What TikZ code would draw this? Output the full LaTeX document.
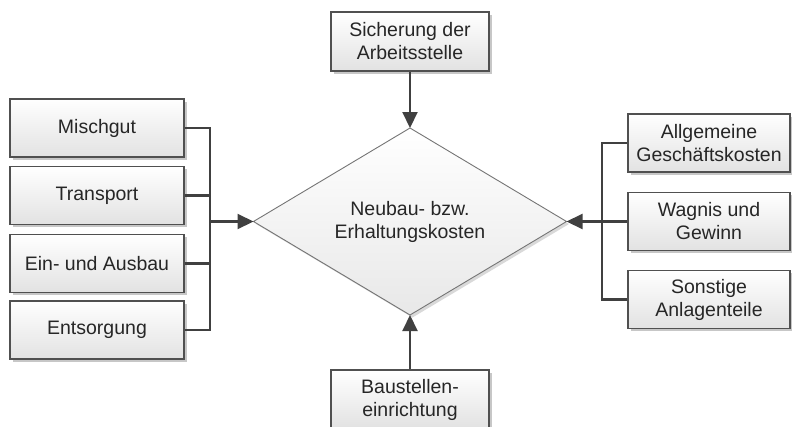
\documentclass[tikz,border=0pt]{standalone}
\usepackage{fontspec}
\setmainfont{Liberation Sans}
\usetikzlibrary{shapes.geometric,shadows,arrows.meta}
\definecolor{boxline}{HTML}{505050}
\definecolor{boxfill}{HTML}{E2E2E2}
\definecolor{connline}{HTML}{404040}
\definecolor{diamline}{HTML}{757575}
\begin{document}
\begin{tikzpicture}[x=1pt,y=-1pt,
  costbox/.style={draw=boxline, line width=1.1pt, top color=white, bottom color=boxfill,
    drop shadow={shadow xshift=2.5pt, shadow yshift=-2.5pt, fill=black, opacity=0.22},
    align=center, inner sep=0pt, text=black!85,
    font=\fontsize{19.5}{23}\selectfont},
  leftbox/.style={costbox, minimum width=174pt, minimum height=58pt},
  rightbox/.style={costbox, minimum width=162pt, minimum height=58pt},
  vbox/.style={costbox, minimum width=158pt, minimum height=59pt},
  conn/.style={draw=connline, line width=2.1pt, line join=miter},
  feed/.style={conn, -{Triangle[length=16pt, width=15pt]}},
]
% page and clipping frame
\fill[white] (0,0) rectangle (792,426);
\clip (0,0) rectangle (792,426);

% central diamond
\node[diamond, aspect=1.67, minimum width=313pt, minimum height=187pt,
  inner sep=0pt, outer sep=0pt, draw=diamline, line width=0.9pt,
  top color=white, bottom color=boxfill!80,
  drop shadow={shadow xshift=2.5pt, shadow yshift=-2.5pt, fill=black, opacity=0.15},
  align=center, text=black!85, font=\fontsize{19.5}{23}\selectfont]
  (cost) at (410,221.5) {Neubau- bzw.\\Erhaltungskosten};

% left column
\node[leftbox] (mischgut)  at (97,128)   {Mischgut};
\node[leftbox] (transport) at (97,195.5) {Transport};
\node[leftbox] (einaus)    at (97,263.5) {Ein- und Ausbau};
\node[leftbox] (entsorg)   at (97,330)   {Entsorgung};

% right column
\node[rightbox] (allg)     at (709,143)   {Allgemeine\\Geschäftskosten};
\node[rightbox] (wagnis)   at (709,221.5) {Wagnis und\\Gewinn};
\node[rightbox] (sonstige) at (709,299.5) {Sonstige\\Anlagenteile};

% top and bottom
\node[vbox] (sicherung) at (410,41.5)  {Sicherung der\\Arbeitsstelle};
\node[vbox] (baustelle) at (410,399.5) {Baustellen-\\einrichtung};

% collecting buses
\coordinate (lbus) at (210,221.5);
\coordinate (rbus) at (602,221.5);

\draw[conn] (mischgut.east) -| (lbus);
\draw[conn] (entsorg.east) -| (lbus);
\draw[conn] (transport.east) -- (transport.east -| lbus);
\draw[conn] (einaus.east) -- (einaus.east -| lbus);
\draw[feed] (lbus) -- (cost.west);

\draw[conn] (allg.west) -| (rbus);
\draw[conn] (sonstige.west) -| (rbus);
\draw[conn] (wagnis.west) -- (rbus);
\draw[feed] (rbus) -- (cost.east);

\draw[feed] (sicherung.south) -- (cost.north);
\draw[feed] (baustelle.north) -- (cost.south);
\end{tikzpicture}
\end{document}
